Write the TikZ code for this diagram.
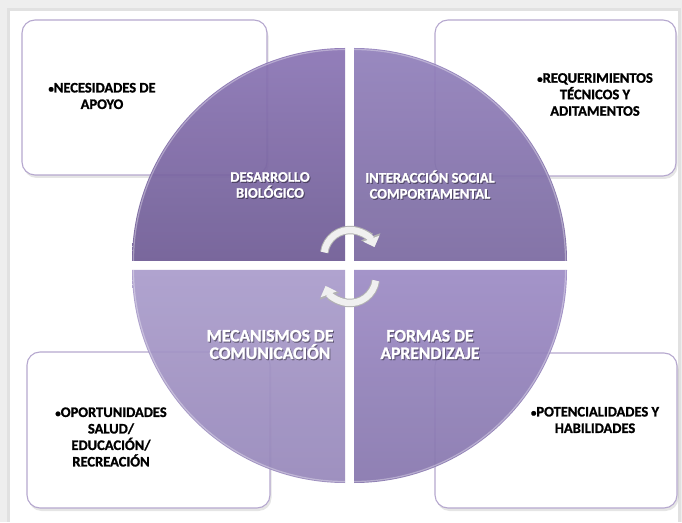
\documentclass[tikz,border=0pt]{standalone}
\usepackage{fontspec}
\setmainfont{Carlito}[BoldFont={Carlito Bold}, BoldFeatures={FakeBold=1.2}]
\usetikzlibrary{arrows.meta}
\definecolor{pagegrey}{HTML}{EEEEEE}
\definecolor{boxline}{HTML}{B6A8CF}
\definecolor{qTLtop}{HTML}{8A74B4}
\definecolor{qTLbot}{HTML}{6E5B94}
\definecolor{qTRtop}{HTML}{917FBB}
\definecolor{qTRbot}{HTML}{7A69A0}
\definecolor{qBLtop}{HTML}{AA9CCB}
\definecolor{qBLbot}{HTML}{9687BA}
\definecolor{qBRtop}{HTML}{9D8BC5}
\definecolor{qBRbot}{HTML}{8676AD}
\newcommand{\bul}{{\fontsize{11}{11}\selectfont •}}
\tikzset{
  x=1pt, y=1pt,
  infobox/.style={draw=boxline, line width=1.1pt, fill=white, rounded corners=13pt},
  boxshadow/.style={fill=black, fill opacity=0.10, rounded corners=13pt},
  boxtext/.style={font=\fontsize{14.5}{16.5}\selectfont\bfseries, align=center, text=black, inner sep=0pt},
  qlabelsmall/.style={font=\fontsize{14.5}{16}\selectfont\bfseries, align=center, inner sep=0pt},
  qlabelbig/.style={font=\fontsize{17.5}{17.5}\selectfont\bfseries, align=center, inner sep=0pt},
  quad/.style={fill opacity=0.92},
  cyclearrowout/.style={draw=black!30, line width=8.5pt, -{Triangle[length=11pt,width=20pt]}},
  cyclearrowin/.style={draw=white!94!black, line width=6.5pt, -{Triangle[length=9pt,width=16.5pt]}},
}
\begin{document}
\begin{tikzpicture}
\useasboundingbox (0,0) rectangle (682,522);
% page
\fill[pagegrey] (0,0) rectangle (682,522);
\fill[black, opacity=0.05] (7,0) rectangle (681,514);
\fill[white] (10,0) rectangle (678,511);

% info boxes (under the circle)
\foreach \a/\b/\c/\d in {22/347/267/502, 435/346/676/502, 27/14/270/170, 435/14/677/169}{
  \fill[boxshadow] (\a+1.5,\b-3) rectangle (\c+1.5,\d-3);
}
\draw[infobox] (22,347) rectangle (267,502);
\draw[infobox] (435,346) rectangle (676,502);
\draw[infobox] (27,14) rectangle (270,170);
\draw[infobox] (435,14) rectangle (677,169);

% quadrants
\shade[quad, top color=qTLtop, bottom color=qTLbot]
  (345,261) -- (132,261) arc[start angle=180, end angle=90, radius=213] -- cycle;
\shade[quad, top color=qTRtop, bottom color=qTRbot]
  (354,261) -- (354,474) arc[start angle=90, end angle=0, radius=213] -- cycle;
\shade[quad, top color=qBRtop, bottom color=qBRbot]
  (354,252) -- (567,252) arc[start angle=0, end angle=-90, radius=213] -- cycle;
\shade[quad, top color=qBLtop, bottom color=qBLbot]
  (345,252) -- (345,39) arc[start angle=270, end angle=180, radius=213] -- cycle;
% bevel highlights along the rims
\draw[white, opacity=0.35, line width=1.2pt]
  (133.5,261) arc[start angle=180, end angle=90, radius=211.5];
\draw[white, opacity=0.35, line width=1.2pt]
  (354,472.5) arc[start angle=90, end angle=0, radius=211.5];
\draw[white, opacity=0.35, line width=1.2pt]
  (565.5,252) arc[start angle=0, end angle=-90, radius=211.5];
\draw[white, opacity=0.35, line width=1.2pt]
  (345,40.5) arc[start angle=270, end angle=180, radius=211.5];

% circular arrows
\coordinate (ctop) at (350,266);
\coordinate (cbot) at (350,245);
\draw[cyclearrowout] ([shift={(172:26)}]ctop) arc[start angle=172, end angle=20, radius=26];
\draw[cyclearrowin]  ([shift={(172:26)}]ctop) arc[start angle=172, end angle=20, radius=26];
\draw[cyclearrowout] ([shift={(-8:26)}]cbot) arc[start angle=-8, end angle=-160, radius=26];
\draw[cyclearrowin]  ([shift={(-8:26)}]cbot) arc[start angle=-8, end angle=-160, radius=26];

% quadrant labels (with soft shadow)
\foreach \px/\py/\st/\tx in {270/337/qlabelsmall/{DESARROLLO\\BIOLÓGICO},
                           430/337.5/qlabelsmall/{INTERACCIÓN SOCIAL\\COMPORTAMENTAL},
                           270/177.5/qlabelbig/{MECANISMOS DE\\COMUNICACIÓN},
                           430/177.5/qlabelbig/{FORMAS DE\\APRENDIZAJE}}{
  \node[\st, text=black, text opacity=0.35] at (\px+1,\py-1.2) {\tx};
}
\node[qlabelsmall, text=white] (lTL) at (270,337) {DESARROLLO\\BIOLÓGICO};
\node[qlabelsmall, text=white] (lTR) at (430,337.5) {INTERACCIÓN SOCIAL\\COMPORTAMENTAL};
\node[qlabelbig, text=white] (lBL) at (270,177.5) {MECANISMOS DE\\COMUNICACIÓN};
\node[qlabelbig, text=white] (lBR) at (430,177.5) {FORMAS DE\\APRENDIZAJE};

% box texts
\node[boxtext] (tTL) at (102,426) {\bul NECESIDADES DE\\APOYO};
\node[boxtext] (tTR) at (595,427.5) {\bul REQUERIMIENTOS\\TÉCNICOS Y\\ADITAMENTOS};
\node[boxtext] (tBL) at (111,85) {\bul OPORTUNIDADES\\SALUD/\\EDUCACIÓN/\\RECREACIÓN};
\node[boxtext] (tBR) at (595,102) {\bul POTENCIALIDADES Y\\HABILIDADES};
\end{tikzpicture}
\end{document}
